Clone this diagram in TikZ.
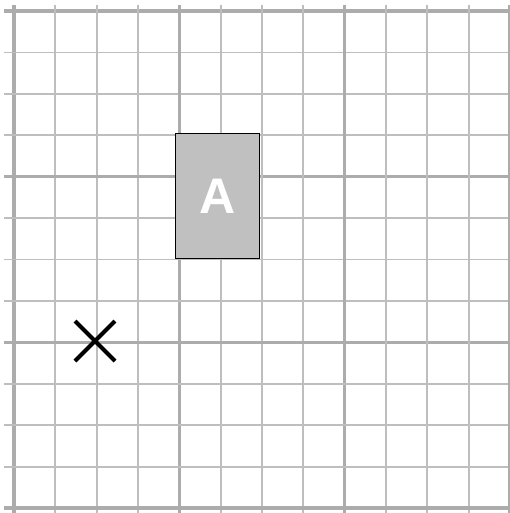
\documentclass[tikz,border=0pt]{standalone}
\usepackage{fontspec}
\setmainfont{Liberation Sans}
\usetikzlibrary{positioning}
\definecolor{gridgray}{RGB}{190, 190, 190}
\definecolor{majorgray}{RGB}{172, 172, 172}
\definecolor{boxgray}{RGB}{192, 192, 192}

\begin{document}
\begin{tikzpicture}[
    x=1pt, y=-1pt,
    minor/.style={draw=gridgray, line width=1.8pt},
    major/.style={draw=majorgray, line width=3.2pt},
    block/.style={rectangle, draw=black, fill=boxgray, line width=1.6pt, minimum width=84pt, minimum height=125pt, inner sep=0pt, text=white, font=\fontsize{50}{50}\selectfont\bfseries},
    crossline/.style={draw=black, line width=4pt}
]
    \useasboundingbox (0,0) rectangle (510,513);

    % grid
    \foreach \i in {0,...,12} {
        \pgfmathsetmacro{\gx}{14+\i*41.33}
        \pgfmathsetmacro{\gy}{11+\i*41.42}
        \pgfmathtruncatemacro{\m}{mod(\i,4)}
        \ifnum\m=0
            \draw[major] (\gx,5) -- (\gx,513);
            \draw[major] (4,\gy) -- (513,\gy);
        \else
            \draw[minor] (\gx,5) -- (\gx,513);
            \draw[minor] (4,\gy) -- (513,\gy);
        \fi
    }

    \node[block] (boxA) at (217.5,196) {A};

    \coordinate (cross) at (95,341);
    \draw[crossline] ([shift={(-20,-20)}]cross) -- ([shift={(20,20)}]cross);
    \draw[crossline] ([shift={(-20,20)}]cross) -- ([shift={(20,-20)}]cross);
\end{tikzpicture}
\end{document}
